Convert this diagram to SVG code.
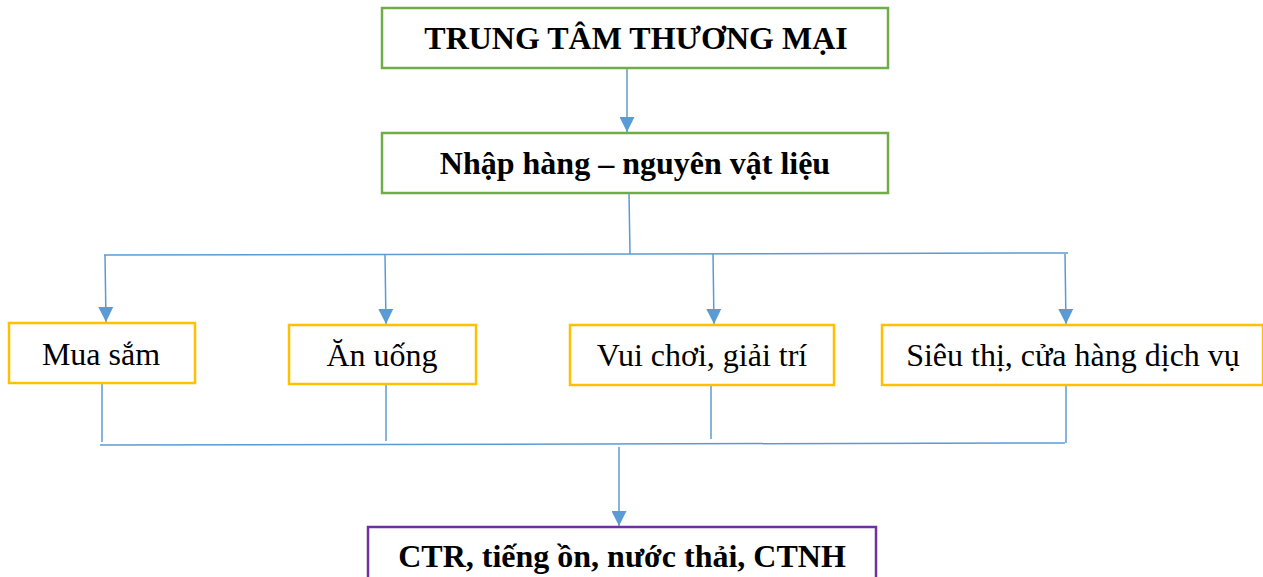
<svg xmlns="http://www.w3.org/2000/svg" width="1263" height="577" viewBox="0 0 1263 577">
  <style>
    .box { fill: #ffffff; stroke-width: 2.5; }
    .green { stroke: #70AD47; }
    .gold { stroke: #FFC000; }
    .purple { stroke: #7030A0; }
    .bold { font-family: "Liberation Serif", "Times New Roman", serif; font-weight: bold; font-size: 32px; fill: #000; text-anchor: middle; }
    .plain { font-family: "Liberation Serif", "Times New Roman", serif; font-size: 32px; fill: #000; text-anchor: middle; }
    .wire { stroke: #5B9BD5; stroke-width: 1.5; fill: none; }
    .arrow { marker-end: url(#head); }
  </style>
  <defs>
    <marker id="head" viewBox="0 0 10 10" refX="10" refY="5" markerWidth="15" markerHeight="15" markerUnits="userSpaceOnUse" orient="auto">
      <path d="M0,0 L10,5 L0,10 z" fill="#5B9BD5"/>
    </marker>
  </defs>

  <rect width="1263" height="577" fill="#ffffff"/>

  <g id="connectors">
    <line class="wire arrow" x1="627" y1="68" x2="627" y2="132"/>
    <line class="wire" x1="629" y1="193" x2="630" y2="254"/>
    <line class="wire" x1="104" y1="255" x2="1068" y2="253"/>
    <line class="wire arrow" x1="105" y1="255" x2="106" y2="322"/>
    <line class="wire arrow" x1="385" y1="255" x2="386" y2="324"/>
    <line class="wire arrow" x1="713" y1="254" x2="714" y2="324"/>
    <line class="wire arrow" x1="1065" y1="254" x2="1066" y2="324"/>
    <line class="wire" x1="102" y1="384" x2="102" y2="442"/>
    <line class="wire" x1="386" y1="385" x2="386" y2="441"/>
    <line class="wire" x1="711" y1="385" x2="711" y2="439"/>
    <line class="wire" x1="1066" y1="385" x2="1066" y2="443"/>
    <line class="wire" x1="100" y1="445" x2="1065" y2="443"/>
    <line class="wire arrow" x1="619" y1="447" x2="619" y2="526"/>
  </g>

  <g id="node-trung-tam">
    <rect class="box green" x="382" y="8" width="506" height="60"/>
    <text class="bold" x="636" y="49">TRUNG TÂM THƯƠNG MẠI</text>
  </g>

  <g id="node-nhap-hang">
    <rect class="box green" x="382" y="133" width="506" height="60"/>
    <text class="bold" x="635" y="174">Nhập hàng – nguyên vật liệu</text>
  </g>

  <g id="node-mua-sam">
    <rect class="box gold" x="9" y="323" width="186" height="60"/>
    <text class="plain" x="101" y="365">Mua sắm</text>
  </g>

  <g id="node-an-uong">
    <rect class="box gold" x="289" y="325" width="187" height="59"/>
    <text class="plain" x="382" y="366">Ăn uống</text>
  </g>

  <g id="node-vui-choi">
    <rect class="box gold" x="570" y="325" width="264" height="60"/>
    <text class="plain" x="702" y="366">Vui chơi, giải trí</text>
  </g>

  <g id="node-sieu-thi">
    <rect class="box gold" x="882" y="325" width="381" height="60"/>
    <text class="plain" x="1073" y="366">Siêu thị, cửa hàng dịch vụ</text>
  </g>

  <g id="node-chat-thai">
    <rect class="box purple" x="368" y="527" width="508" height="60"/>
    <text class="bold" x="622" y="567">CTR, tiếng ồn, nước thải, CTNH</text>
  </g>
</svg>
